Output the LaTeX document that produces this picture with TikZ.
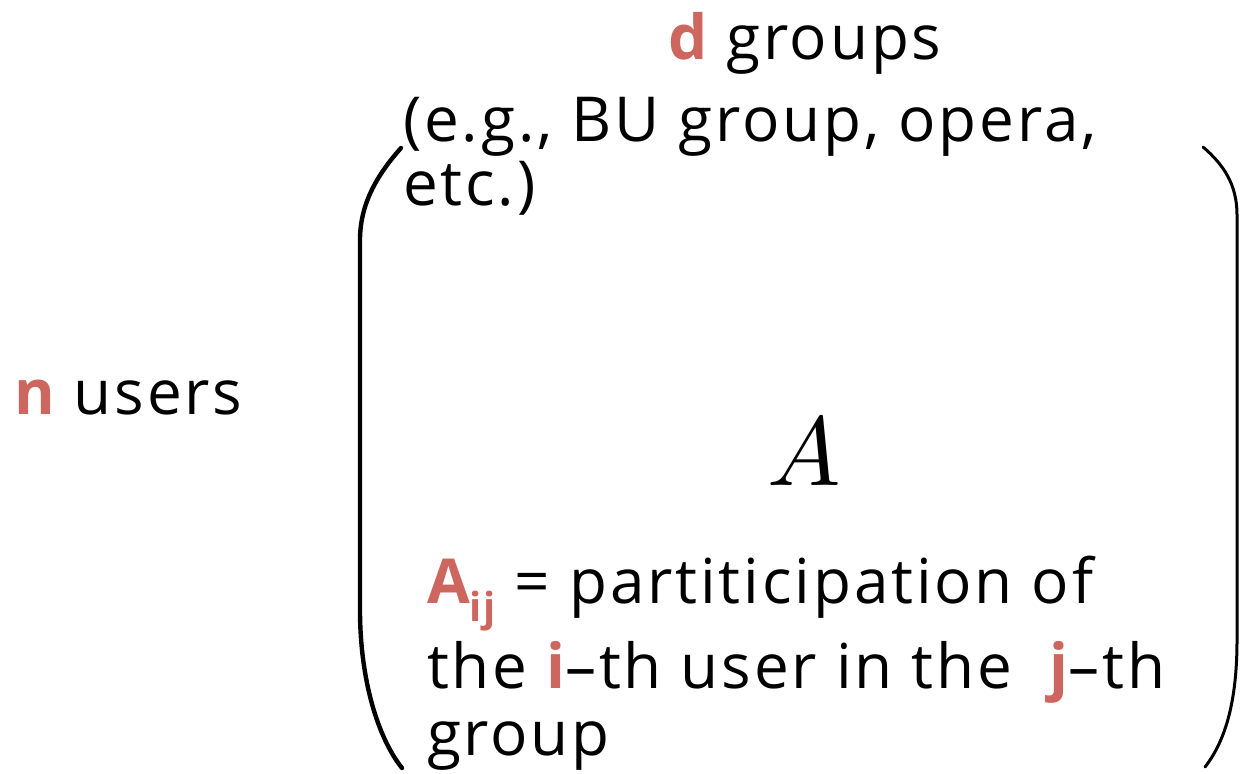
\documentclass[tikz,border=0pt]{standalone}
\usepackage{fontspec}
\setmainfont{Open Sans}[LetterSpace=4.6]
\definecolor{hl}{RGB}{204,102,94}
\begin{document}
\begin{tikzpicture}[x=0.5pt,y=-0.5pt,
  txt/.style={anchor=base west, inner sep=0pt, outer sep=0pt, font=\fontsize{31}{31}\selectfont},
  paren/.style={line cap=round, black}]
\useasboundingbox (0,0) rectangle (1240,774);
\node[txt] (dg) at (668,60) {\textcolor{hl}{\bfseries d} groups};
\node[txt] (eg) at (403,142) {(e.g., BU group, opera,};
\node[txt] (etc) at (403,206) {etc.)};
\node[txt] (nu) at (14,415) {\textcolor{hl}{\bfseries n} users};
\node[scale=4.9, inner sep=0pt] (A) at (804,452) {$A$};
\node[txt] (l1) at (427,603) {\textcolor{hl}{\bfseries A\raisebox{-0.55ex}{\fontsize{20}{20}\selectfont ij}} = partiticipation of};
\node[txt] (l2) at (427,688) {the \textcolor{hl}{\bfseries i}--th user in the\hspace{0.3em} \textcolor{hl}{\bfseries j}--th};
\node[txt] (l3) at (427,755) {group};
\draw[paren, line width=2.2pt] (401,148) .. controls (376,176) and (360,205) .. (360,240) -- (360,610) .. controls (360,680) and (378,738) .. (402,768);
\draw[paren, line width=1.5pt] (1203,147) .. controls (1224,165) and (1237,185) .. (1237,215) -- (1237,640) .. controls (1237,700) and (1226,740) .. (1205,767);
\end{tikzpicture}
\end{document}
